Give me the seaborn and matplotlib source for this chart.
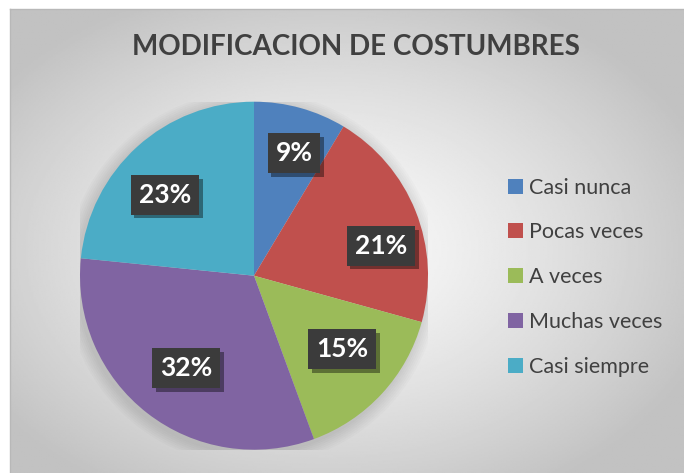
import numpy as np
import matplotlib
matplotlib.use("Agg")
import matplotlib.pyplot as plt
import matplotlib.patheffects as pe
from matplotlib.patches import Circle
import seaborn as sns

# datos
categorias = ["Casi nunca", "Pocas veces", "A veces", "Muchas veces", "Casi siempre"]
porcentajes = [8.6, 20.7, 15.1, 32.2, 23.4]
colores = ["#4F81BD", "#C0504D", "#9BBB59", "#8064A2", "#4BACC6"]
titulo = "MODIFICACION DE COSTUMBRES"

# colocacion de etiquetas (distancia radial y giro en grados, como en Excel)
dist_etiqueta = [0.74, 0.75, 0.66, 0.66, 0.69]
giro_etiqueta = [2.6, 8.6, -2.9, -1.6, -5.7]

sns.set_style("white")
plt.rcParams['font.family'] = ['Lato', 'DejaVu Sans']

W, H = 684, 473
fig = plt.figure(figsize=(W / 100, H / 100), dpi=100)
fig.patch.set_facecolor("white")

# fondo con degradado radial
bg = fig.add_axes([10 / W, 0, (W - 10) / W, (H - 9) / H])
yy, xx = np.mgrid[0:1:300j, 0:1:400j]
r = np.sqrt(((xx - 0.47) / 0.75) ** 2 + ((yy - 0.52) / 0.75) ** 2)
grad = np.clip(0.985 - 0.30 * r ** 1.3, 0.76, 1)
bg.imshow(grad, cmap="gray", vmin=0, vmax=1, aspect="auto", extent=[0, 1, 0, 1])
bg.set_xticks([])
bg.set_yticks([])
for s in bg.spines.values():
    s.set_color("#b8b8b8")
    s.set_linewidth(1)
bg.spines["right"].set_visible(False)
bg.spines["bottom"].set_visible(False)

fig.text(356 / W, 1 - 47 / H, titulo, ha="center", va="center",
         fontsize=20, fontweight="bold", color="#404040")

# circulo
cx, cy, rad = 254, 275.7, 174
ax = fig.add_axes([(cx - rad) / W, (H - cy - rad) / H, 2 * rad / W, 2 * rad / H])
ax.patch.set_alpha(0)

# sombra suave del circulo
for k in range(7):
    ax.add_patch(Circle((-0.01, -0.015), 1.0 + 0.011 * (k + 1), color="black",
                        alpha=0.014, linewidth=0, zorder=0))

wedges, textos, autotextos = ax.pie(
    porcentajes,
    colors=sns.color_palette(colores),
    startangle=90,
    counterclock=False,
    autopct="%.0f%%",
    wedgeprops=dict(linewidth=0),
    textprops=dict(color="white", fontsize=19, fontweight="bold"),
)
ax.set_xlim(-1, 1)
ax.set_ylim(-1, 1)

for w, t, d, g in zip(wedges, autotextos, dist_etiqueta, giro_etiqueta):
    medio = np.deg2rad((w.theta1 + w.theta2) / 2 - g)
    t.set_position((d * np.cos(medio), d * np.sin(medio)))
    t.set_bbox(dict(boxstyle="square,pad=0.3", facecolor="#3b3b3b",
                    edgecolor="none", linewidth=0))
    t.get_bbox_patch().set_path_effects(
        [pe.withSimplePatchShadow(offset=(2.5, -2.5), shadow_rgbFace="black", alpha=0.4),
         pe.Normal()])

leg = fig.legend(wedges, categorias, loc="upper left",
                 bbox_to_anchor=(499 / W, 1 - 169 / H),
                 frameon=False, fontsize=15.5, handlelength=0.7, handleheight=0.7,
                 handletextpad=0.3, labelspacing=1.15, borderaxespad=0)
for txt in leg.get_texts():
    txt.set_color("#404040")

fig.savefig("out.png", dpi=100)
